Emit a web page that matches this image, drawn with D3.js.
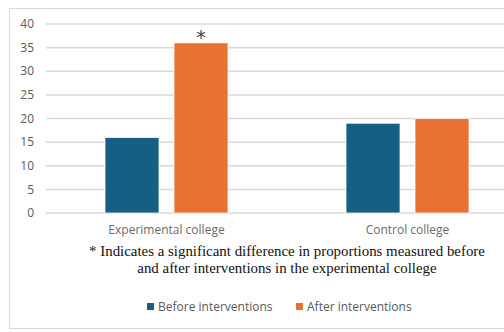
<!DOCTYPE html>
<html>
<head>
<meta charset="utf-8">
<script src="https://cdn.jsdelivr.net/npm/d3@7"></script>
<style>
  body { margin: 0; background: #fff; }
  svg { display: block; }
</style>
</head>
<body>
<svg id="chart"></svg>
<script>
const colleges = ["Experimental college", "Control college"]
const seriesNames = ["Before interventions", "After interventions"]
const beforeValues = [16, 19]
const afterValues = [36, 20]
const yTicks = [0, 5, 10, 15, 20, 25, 30, 35, 40]
const significant = [true, false]
const footnoteLines = [
  "* Indicates a significant difference in proportions measured before",
  "and after interventions in the experimental college"
]

const W = 504
const H = 332
const COLORS = ["#156082", "#E97132"]
const PLOT = {left: 46, right: 528, top: 24, bottom: 213}

const svg = d3.select("#chart").attr("width", W).attr("height", H)

// chart frame
svg.append("rect")
  .attr("x", 9.5).attr("y", 8.5)
  .attr("width", W).attr("height", 320)
  .attr("fill", "#fff")
  .attr("stroke", "#d9d9d9")

const y = d3.scaleLinear().domain([0, 40]).range([PLOT.bottom, PLOT.top])
const x = d3.scaleBand().domain(colleges).range([PLOT.left, PLOT.right])
const xInner = d3.scaleBand().domain(seriesNames).range([-61.5, 61.5]).paddingInner(15 / 69)

// gridlines
svg.append("g")
  .selectAll("line")
  .data(yTicks)
  .join("line")
  .attr("x1", PLOT.left).attr("x2", W)
  .attr("y1", d => y(d)).attr("y2", d => y(d))
  .attr("stroke", "#d9d9d9")
  .attr("stroke-width", 1.5)

// y axis labels
svg.append("g")
  .selectAll("text")
  .data(yTicks)
  .join("text")
  .attr("x", 34)
  .attr("y", d => y(d))
  .attr("dy", "0.35em")
  .attr("text-anchor", "end")
  .attr("font-family", "Open Sans, sans-serif")
  .attr("font-size", 12)
  .attr("fill", "#595959")
  .text(d => d)

const rows = colleges.map((c, i) => ({
  college: c,
  values: [beforeValues[i], afterValues[i]]
}))

const groups = svg.append("g")
  .selectAll("g")
  .data(rows)
  .join("g")
  .attr("transform", d => `translate(${x(d.college) + x.bandwidth() / 2},0)`)

groups.selectAll("rect")
  .data(d => d.values.map((v, k) => ({series: seriesNames[k], value: v, k})))
  .join("rect")
  .attr("x", d => xInner(d.series))
  .attr("width", xInner.bandwidth())
  .attr("y", d => y(d.value))
  .attr("height", d => y(0) - y(d.value))
  .attr("fill", d => COLORS[d.k])
  .attr("stroke", "#fff")
  .attr("stroke-width", 0.75)

// significance marker
groups.filter((d, i) => significant[i])
  .append("text")
  .attr("x", xInner("After interventions") + xInner.bandwidth() / 2)
  .attr("y", d => y(d.values[1]) + 1)
  .attr("text-anchor", "middle")
  .attr("font-family", "DejaVu Sans, sans-serif")
  .attr("font-size", 19)
  .attr("fill", "#404040")
  .text("*")

// category labels
svg.append("g")
  .selectAll("text")
  .data(colleges)
  .join("text")
  .attr("x", d => x(d) + x.bandwidth() / 2)
  .attr("y", 234)
  .attr("text-anchor", "middle")
  .attr("font-family", "Open Sans, sans-serif")
  .attr("font-size", 12)
  .attr("fill", "#6b6b6b")
  .text(d => d)

// footnote
svg.append("g")
  .selectAll("text")
  .data(footnoteLines)
  .join("text")
  .attr("x", 287)
  .attr("y", (d, i) => 256 + i * 17)
  .attr("text-anchor", "middle")
  .attr("font-family", "Liberation Serif, Times New Roman, serif")
  .attr("font-size", 14.9)
  .attr("fill", "#111")
  .text(d => d)

// legend
const legendX = [147, 296]
const legend = svg.append("g")
  .selectAll("g")
  .data(seriesNames)
  .join("g")
  .attr("transform", (d, i) => `translate(${legendX[i]},307)`)
legend.append("rect")
  .attr("x", 0).attr("y", -4)
  .attr("width", 7).attr("height", 7)
  .attr("fill", (d, i) => COLORS[i])
legend.append("text")
  .attr("x", 11)
  .attr("y", 0)
  .attr("dy", "0.35em")
  .attr("font-family", "Open Sans, sans-serif")
  .attr("font-size", 12)
  .attr("fill", "#595959")
  .text(d => d)
</script>
</body>
</html>
